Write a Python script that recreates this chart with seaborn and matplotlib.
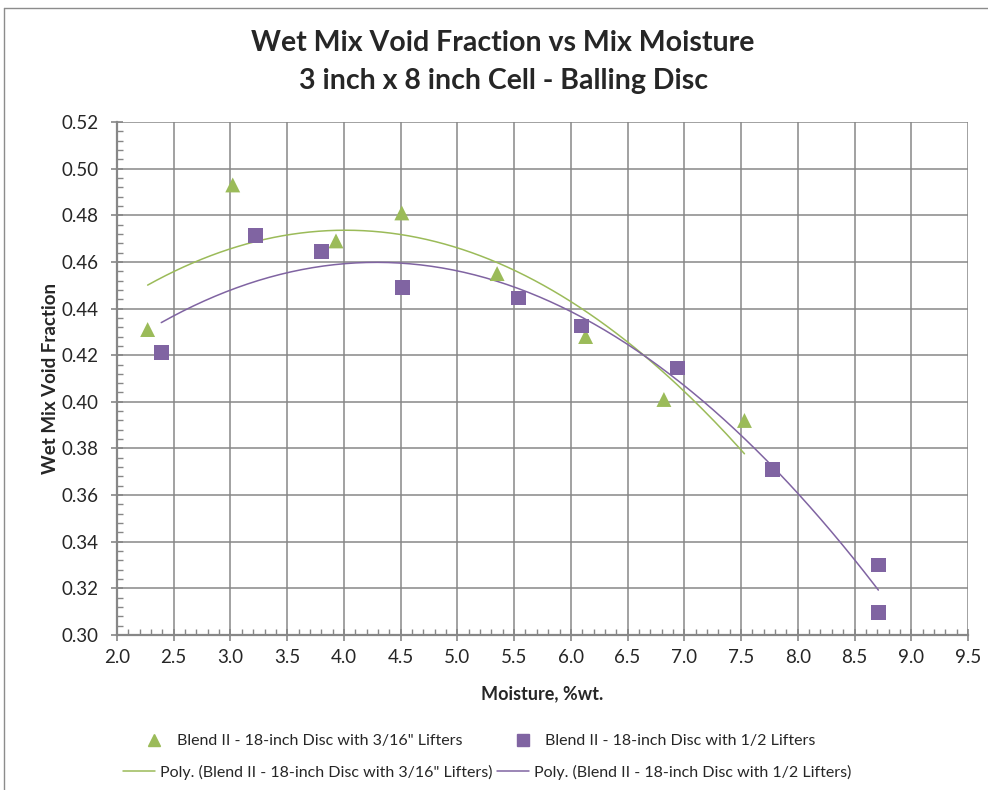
import numpy as np
import pandas as pd
import matplotlib
matplotlib.use("Agg")
import matplotlib.pyplot as plt
from matplotlib.lines import Line2D
from matplotlib.ticker import MultipleLocator, FormatStrFormatter
import seaborn as sns

# Moisture (%wt.) and wet mix void fraction for each lifter setup
moist_316 = [2.27, 3.02, 3.93, 4.51, 5.35, 6.13, 6.82, 7.53]
void_316 = [0.431, 0.493, 0.469, 0.481, 0.455, 0.428, 0.401, 0.392]
moist_12 = [2.39, 3.22, 3.80, 4.52, 5.54, 6.09, 6.94, 7.78, 8.71, 8.71]
void_12 = [0.421, 0.4715, 0.4645, 0.449, 0.4445, 0.4325, 0.4145, 0.371, 0.330, 0.3095]

label_316 = 'Blend II - 18-inch Disc with 3/16" Lifters'
label_12 = "Blend II - 18-inch Disc with 1/2 Lifters"

green = "#9BBB59"
purple = "#8064A2"
grid_col = "#878787"

sns.set_theme(style="white")
plt.rcParams["font.family"] = ["Lato", "DejaVu Sans"]

df = pd.concat([
    pd.DataFrame({"Moisture": moist_316, "Void": void_316, "Series": label_316}),
    pd.DataFrame({"Moisture": moist_12, "Void": void_12, "Series": label_12}),
], ignore_index=True)

# Second-order polynomial trend lines over each series' own range
trend_rows = []
for lab, xs, ys in [(label_316, moist_316, void_316), (label_12, moist_12, void_12)]:
    coef = np.polyfit(xs, ys, 2)
    xx = np.linspace(min(xs), max(xs), 200)
    trend_rows.append(pd.DataFrame({"Moisture": xx, "Void": np.polyval(coef, xx),
                                    "Series": "Poly. (" + lab + ")"}))
trend = pd.concat(trend_rows, ignore_index=True)

fig = plt.figure(figsize=(9.88, 7.9), dpi=100)
ax = fig.add_axes([117 / 988, 1 - 635 / 790, (968 - 117) / 988, (635 - 122) / 790])

sns.lineplot(data=trend, x="Moisture", y="Void", hue="Series",
             palette=[green, purple], linewidth=1.1, ax=ax, legend=False,
             sort=False, zorder=3)
sns.scatterplot(data=df, x="Moisture", y="Void", hue="Series", style="Series",
                markers={label_316: "^", label_12: "s"},
                palette={label_316: green, label_12: purple},
                s=115, linewidth=0, ax=ax, legend=False, zorder=4)

ax.set_xlim(2.0, 9.5)
ax.set_ylim(0.30, 0.52)
ax.xaxis.set_major_locator(MultipleLocator(0.5))
ax.xaxis.set_minor_locator(MultipleLocator(0.1))
ax.yaxis.set_major_locator(MultipleLocator(0.02))
ax.yaxis.set_minor_locator(MultipleLocator(0.004))
ax.xaxis.set_major_formatter(FormatStrFormatter("%.1f"))
ax.yaxis.set_major_formatter(FormatStrFormatter("%.2f"))

ax.grid(True, which="major", color=grid_col, linewidth=1.1, zorder=0)
ax.set_axisbelow(True)
for side in ["top", "right"]:
    ax.spines[side].set_visible(False)
for side in ["left", "bottom"]:
    ax.spines[side].set_color(grid_col)
    ax.spines[side].set_linewidth(1.6)

ax.tick_params(which="major", direction="inout", length=8, width=1.2,
               color=grid_col, labelsize=13.5, pad=6, left=True, bottom=True)
ax.tick_params(which="minor", direction="in", length=4, width=1.0,
               color=grid_col, left=True, bottom=True)
ax.tick_params(axis="y", which="major", pad=9)

ax.set_xlabel("Moisture, %wt.", fontsize=13, fontweight="bold", labelpad=14)
ax.set_ylabel("Wet Mix Void Fraction", fontsize=13.5, fontweight="bold", labelpad=2)

fig.text(503 / 988, 1 - 43 / 790, "Wet Mix Void Fraction vs Mix Moisture",
         ha="center", va="center", fontsize=20.5, fontweight="bold")
fig.text(503 / 988, 1 - 81 / 790, "3 inch x 8 inch Cell - Balling Disc",
         ha="center", va="center", fontsize=20.5, fontweight="bold")

# Legend: markers on the first row, trend lines on the second
h_tri = Line2D([], [], marker="^", color=green, linestyle="none", markersize=9)
h_sq = Line2D([], [], marker="s", color=purple, linestyle="none", markersize=9)
h_g = Line2D([], [], color=green, linewidth=1.1)
h_p = Line2D([], [], color=purple, linewidth=1.1)

leg1 = fig.legend([h_tri, h_sq], [label_316, label_12], ncol=2,
                  loc="center", bbox_to_anchor=(480 / 988, 1 - 741 / 790),
                  frameon=False, fontsize=11.5, handlelength=1.2,
                  handletextpad=0.8, columnspacing=3.2)
leg2 = fig.legend([h_g, h_p], ["Poly. (" + label_316 + ")", "Poly. (" + label_12 + ")"],
                  ncol=2, loc="center", bbox_to_anchor=(487 / 988, 1 - 772 / 790),
                  frameon=False, fontsize=11.5, handlelength=2.0,
                  handletextpad=0.3, columnspacing=0.3)

# Chart area border
fig.add_artist(Line2D([4 / 988, 1.0], [1 - 8 / 790, 1 - 8 / 790],
                      transform=fig.transFigure, color="#8c8c8c", linewidth=1))
fig.add_artist(Line2D([4 / 988, 4 / 988], [0.0, 1 - 8 / 790],
                      transform=fig.transFigure, color="#8c8c8c", linewidth=1))

fig.savefig("out.png", dpi=100)
